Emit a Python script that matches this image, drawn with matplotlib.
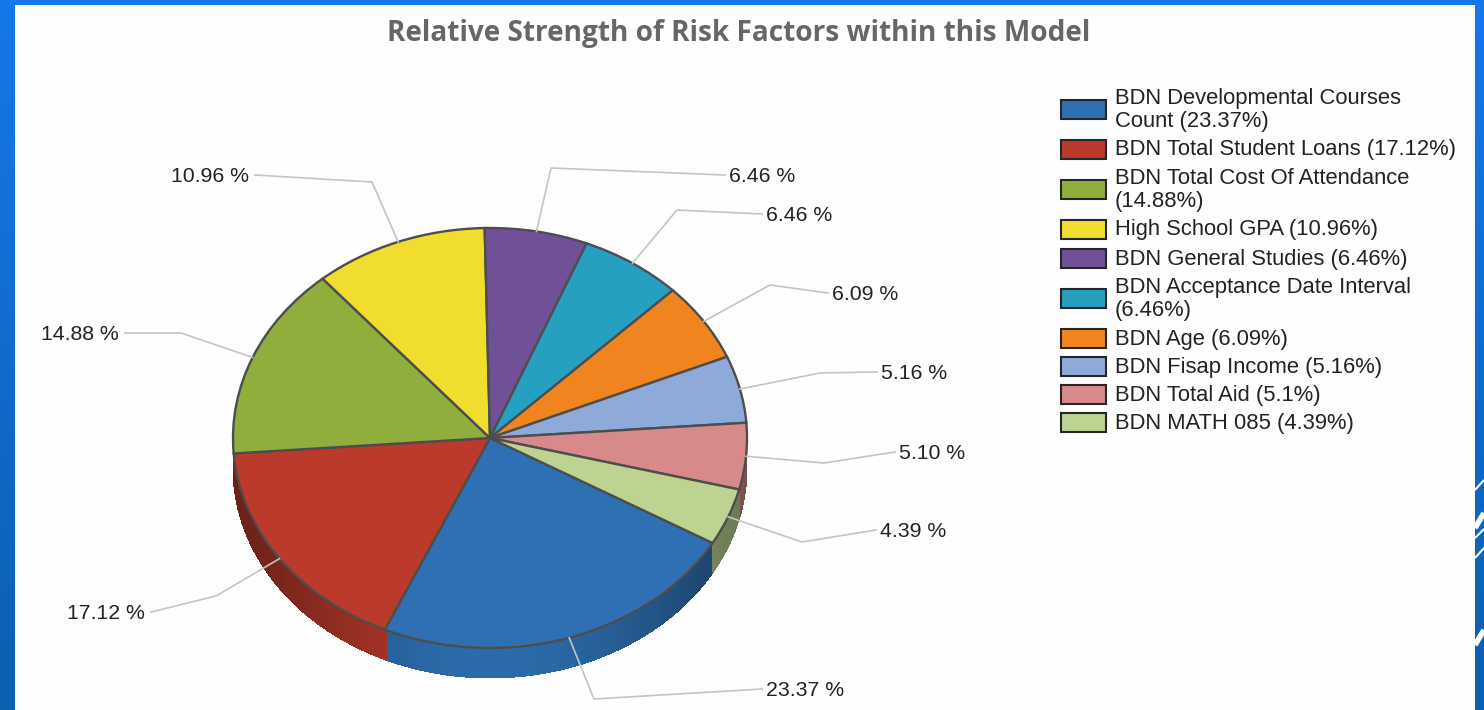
import numpy as np
import matplotlib
matplotlib.use("Agg")
import matplotlib.pyplot as plt
from matplotlib.patches import Rectangle
from matplotlib.transforms import Affine2D

# chart data
names = ["BDN Developmental Courses\nCount (23.37%)", "BDN Total Student Loans (17.12%)",
         "BDN Total Cost Of Attendance\n(14.88%)", "High School GPA (10.96%)",
         "BDN General Studies (6.46%)", "BDN Acceptance Date Interval\n(6.46%)",
         "BDN Age (6.09%)", "BDN Fisap Income (5.16%)", "BDN Total Aid (5.1%)",
         "BDN MATH 085 (4.39%)"]
pct = [23.37, 17.12, 14.88, 10.96, 6.46, 6.46, 6.09, 5.16, 5.10, 4.39]
colors = ["#2e70b3", "#bb3a2b", "#8fae3c", "#f0dd2d", "#705096",
          "#26a0c0", "#f0841e", "#8eaad8", "#d88a8a", "#bcd392"]

# layout in pixels of the screenshot
W, H = 1484, 710
cx, cy, rx, ry, depth = 490, 438, 257, 210, 30
start_angle = -30.0
legend_y = [109, 149, 189, 229, 258, 298, 338, 366, 394, 422]
elbows = [(594, 699), (216, 596), (181, 333), (372, 182), (551, 168),
          (677, 210), (770, 285), (820, 373), (824, 463), (802, 542)]
line_ends = [(762, 689), (151, 612), (125, 333), (255, 175), (725, 175),
             (762, 214), (828, 293), (877, 372), (895, 452), (876, 530)]
chevrons = [(490, 480, 1.5), (528, 513, 4), (538, 529, 1.5), (558, 548, 1.5), (645, 630, 4)]

fig = plt.figure(figsize=(W / 100, H / 100), dpi=100)
ax = fig.add_axes([0, 0, 1, 1])

# pie top
wedges, _ = ax.pie(pct, colors=colors, startangle=start_angle, counterclock=False, radius=rx,
                   wedgeprops=dict(edgecolor="#4d4d4d", linewidth=1.7, zorder=5))
tilt = Affine2D().scale(1, -ry / rx).translate(cx, cy)
for w in wedges:
    w.set_transform(tilt + ax.transData)

ax.set_aspect("auto")
ax.set_xlim(0, W)
ax.set_ylim(H, 0)
ax.axis("off")

# slide background and white panel
grad = np.linspace(0, 1, 256).reshape(-1, 1)
cmap = matplotlib.colors.LinearSegmentedColormap.from_list("bg", ["#1578ea", "#0d5fb0"])
ax.imshow(grad, cmap=cmap, extent=(0, W, H, 0), aspect="auto", zorder=0)
ax.add_patch(Rectangle((15, 5), 1460, H - 5, facecolor="#fefefe", edgecolor="none", zorder=1))
for y0, y1, lw in chevrons:
    ax.plot([1475, W], [y0, y1], color="white", lw=lw, solid_capstyle="butt", zorder=1.5)

# side of the pie, thin strips with the shading
angle = start_angle
for value, color in zip(pct, colors):
    a0, a1 = angle - value * 3.6, angle
    angle = a0
    # the last slices wrap past the full circle
    if a1 < -180:
        a0 += 360
        a1 += 360
    if a0 < -180:
        a0 = -180
    if a1 > 0:
        a1 = 0
    # slices that only just reach the lower half show no side
    if a1 - a0 < 5:
        continue
    steps = np.arange(a0, a1 + 1.5, 1.5)
    steps[-1] = a1
    base = np.array(matplotlib.colors.to_rgb(color))
    for t0, t1 in zip(steps[:-1], steps[1:]):
        mid = np.radians((t0 + t1) / 2 + 90)
        shade = 0.58 + 0.37 * np.cos(mid) ** 3
        tt = np.radians([t0, t1 + 0.4])
        xs = cx + rx * np.cos(tt)
        ys = cy - ry * np.sin(tt)
        ax.fill([xs[0], xs[1], xs[1], xs[0]], [ys[0], ys[1], ys[1] + depth, ys[0] + depth],
                facecolor=base * shade, edgecolor="none", antialiased=False, zorder=3)

# leader lines and value labels
angle = start_angle
for value, elbow, end in zip(pct, elbows, line_ends):
    mid = np.radians(angle - value * 1.8)
    angle -= value * 3.6
    x0 = cx + rx * np.cos(mid)
    y0 = cy - ry * np.sin(mid)
    ax.plot([x0, elbow[0], end[0]], [y0, elbow[1], end[1]], color="#c4c4c4", lw=1.2, zorder=6)
    if end[0] < cx:
        ax.text(end[0] - 6, end[1] + 1.5, "%.2f %%" % value, ha="right", va="center",
                family="Liberation Sans", fontsize=15.3, color="#222222", zorder=7)
    else:
        ax.text(end[0] + 4, end[1] + 1.5, "%.2f %%" % value, ha="left", va="center",
                family="Liberation Sans", fontsize=15.3, color="#222222", zorder=7)

# legend
for name, color, y in zip(names, colors, legend_y):
    ax.add_patch(Rectangle((1061, y - 9.5), 45, 19, facecolor=color, edgecolor="#262626", lw=1.5, zorder=5))
    ax.text(1115, y + 1, name, ha="left", va="center", family="Liberation Sans", fontsize=15.8,
            linespacing=1.17, color="#222222", zorder=7)

ax.text(739, 33, "Relative Strength of Risk Factors within this Model", ha="center", va="center",
        family="Open Sans", fontweight="bold", fontsize=20.2, color="#666666", zorder=7)

fig.savefig("out.png", dpi=100)
